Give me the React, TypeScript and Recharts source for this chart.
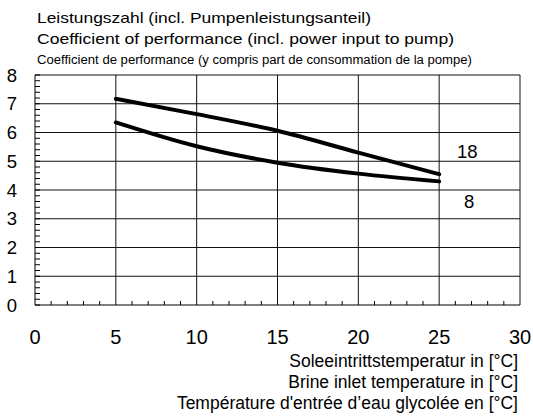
import { LineChart, Line, XAxis, YAxis, ReferenceLine } from "recharts";

// brine inlet temperature [°C]
const temps = [5, 10, 15, 20, 25];
// COP at flow temperature 18 and 8
const cop18 = [7.17, 6.64, 6.06, 5.3, 4.55];
const cop8 = [6.35, 5.52, 4.95, 4.57, 4.3];

const xTicks = [
  0, 1, 2, 3, 4, 5, 6, 7, 8, 9, 10, 11, 12, 13, 14, 15, 16, 17, 18, 19, 20,
  21, 22, 23, 24, 25, 26, 27, 28, 29, 30,
];
const xGrid = [5, 10, 15, 20, 25, 30];
const yTicks = [
  0, 0.2, 0.4, 0.6, 0.8, 1, 1.2, 1.4, 1.6, 1.8, 2, 2.2, 2.4, 2.6, 2.8, 3, 3.2,
  3.4, 3.6, 3.8, 4, 4.2, 4.4, 4.6, 4.8, 5, 5.2, 5.4, 5.6, 5.8, 6, 6.2, 6.4,
  6.6, 6.8, 7, 7.2, 7.4, 7.6, 7.8, 8,
];
const yGrid = [1, 2, 3, 4, 5, 6, 7, 8];

const titleLines = [
  "Leistungszahl (incl. Pumpenleistungsanteil)",
  "Coefficient of performance (incl. power input to pump)",
  "Coefficient de performance (y compris part de consommation de la pompe)",
];
const xTitleLines = [
  "Soleeintrittstemperatur in [°C]",
  "Brine inlet temperature in [°C]",
  "Température d'entrée d’eau glycolée en [°C]",
];

const data = temps.map((t, i) => ({ t, cop18: cop18[i], cop8: cop8[i] }));

const font = "'Liberation Sans', Arial, sans-serif";

function XTick({ x, y, payload }: any) {
  const v = payload.value;
  const major = v % 5 === 0;
  return (
    <g>
      {!major && <line x1={x} x2={x} y1={y} y2={y - 4} stroke="#000" />}
      {major && (
        <text x={x} y={y + 32} textAnchor="middle" dominantBaseline="central" fontSize={20} fill="#000" fontFamily={font}>
          {v}
        </text>
      )}
    </g>
  );
}

function YTick({ x, y, payload }: any) {
  const v = payload.value;
  const major = Math.abs(v - Math.round(v)) < 0.01;
  return (
    <g>
      <line x1={x} x2={x + 5} y1={y} y2={y} stroke="#000" />
      {major && (
        <text x={x - 23} y={y} textAnchor="middle" dominantBaseline="central" fontSize={18.5} fill="#000" fontFamily={font}>
          {Math.round(v)}
        </text>
      )}
    </g>
  );
}

function endLabel(text: string, dx: number, dy: number) {
  return (props: any) => {
    if (props.index !== temps.length - 1) return null;
    return (
      <text
        x={props.x + dx}
        y={props.y + dy}
        textAnchor="middle"
        dominantBaseline="central"
        fontSize={18.5}
        fill="#000"
        fontFamily={font}
      >
        {text}
      </text>
    );
  };
}

export default function App() {
  return (
    <div style={{ position: "absolute", left: 0, top: 0, width: 533, height: 416, background: "#fff" }}>
      <LineChart
        width={533}
        height={416}
        data={data}
        margin={{ top: 75, right: 13, bottom: 81, left: 5 }}
      >
        {xGrid.map((v) => (
          <ReferenceLine key={"x" + v} x={v} stroke="#111" strokeWidth={1} />
        ))}
        {yGrid.map((v) => (
          <ReferenceLine key={"y" + v} y={v} stroke="#111" strokeWidth={1} />
        ))}
        <XAxis
          dataKey="t"
          type="number"
          domain={[0, 30]}
          ticks={xTicks}
          interval={0}
          height={30}
          tickSize={0}
          tickMargin={0}
          tickLine={false}
          axisLine={{ stroke: "#000" }}
          tick={<XTick />}
        />
        <YAxis
          type="number"
          domain={[0, 8]}
          ticks={yTicks}
          interval={0}
          width={30}
          tickSize={0}
          tickMargin={0}
          tickLine={false}
          axisLine={{ stroke: "#000" }}
          tick={<YTick />}
        />
        <Line
          type="monotone"
          dataKey="cop18"
          stroke="#000"
          strokeWidth={4}
          strokeLinecap="round"
          dot={false}
          isAnimationActive={false}
          label={endLabel("18", 28, -23)}
        />
        <Line
          type="monotone"
          dataKey="cop8"
          stroke="#000"
          strokeWidth={4}
          strokeLinecap="round"
          dot={false}
          isAnimationActive={false}
          label={endLabel("8", 30, 20)}
        />
      </LineChart>
      <svg
        width={533}
        height={416}
        style={{ position: "absolute", left: 0, top: 0, pointerEvents: "none" }}
        fontFamily={font}
      >
        <text x={37} y={23} fontSize={15} textLength={334} lengthAdjust="spacingAndGlyphs">
          {titleLines[0]}
        </text>
        <text x={37} y={44} fontSize={15} textLength={417} lengthAdjust="spacingAndGlyphs">
          {titleLines[1]}
        </text>
        <text x={37} y={64} fontSize={12.5} textLength={435} lengthAdjust="spacingAndGlyphs">
          {titleLines[2]}
        </text>
        <text x={518} y={367} fontSize={17.5} textAnchor="end">
          {xTitleLines[0]}
        </text>
        <text x={518} y={388} fontSize={17.5} textAnchor="end">
          {xTitleLines[1]}
        </text>
        <text x={518} y={409} fontSize={17.5} textAnchor="end">
          {xTitleLines[2]}
        </text>
      </svg>
    </div>
  );
}
